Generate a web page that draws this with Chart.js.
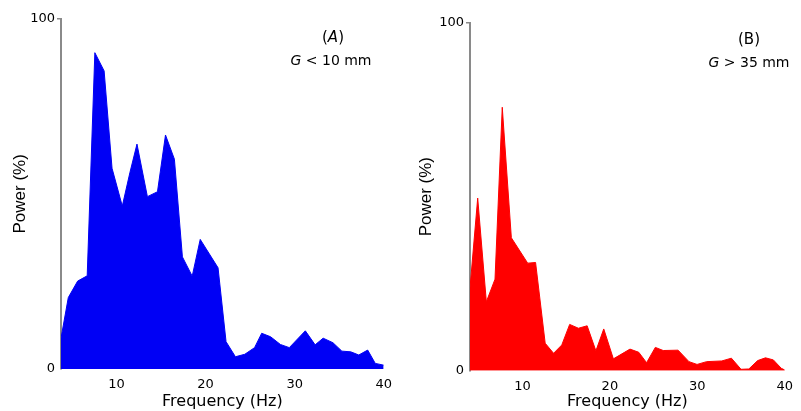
<!DOCTYPE html>
<html>
<head>
<meta charset="utf-8">
<script src="https://cdn.jsdelivr.net/npm/chart.js@4/dist/chart.umd.min.js"></script>
<style>
  html, body { margin: 0; padding: 0; background: #fff; }
  #wrap { position: relative; width: 801px; height: 411px; overflow: hidden; }
  canvas { position: absolute; top: 0; }
  #chart-a { left: 0; }
  #chart-b { left: 400px; }
</style>
</head>
<body>
<div id="wrap">
  <canvas id="chart-a" width="400" height="411"></canvas>
  <canvas id="chart-b" width="401" height="411"></canvas>
</div>
<script>
// panel A: G < 10 mm
const freqA = [3.77, 4.59, 5.64, 6.71, 7.57, 8.61, 9.5, 10.65, 11.5, 12.3, 13.47, 14.6, 15.5, 16.5,
    17.4, 18.5, 19.4, 21.4, 22.3, 23.35, 24.4, 25.5, 26.3, 27.3, 28.4, 29.4, 31.2, 32.3, 33.2,
    34.3, 35.3, 36.3, 37.2, 38.2, 39.05, 40];
const powerA = [8.8, 20.4, 25.1, 26.6, 90.3, 85.1, 57.3, 46.5, 56, 64.2, 49.2, 50.6, 66.8, 59.9,
    32, 26.5, 37, 28.9, 7.8, 3.5, 4.2, 6.1, 10.2, 9.2, 7.0, 6.1, 10.9, 6.9, 8.8,
    7.5, 5.1, 4.9, 4.0, 5.4, 1.6, 1.1];

// panel B: G > 35 mm
const freqB = [4.0, 4.88, 5.87, 6.86, 7.69, 8.73, 10.6, 11.5, 12.6, 13.56, 14.5, 15.4, 16.4, 17.4,
    18.4, 19.3, 20.4, 22.3, 23.3, 24.2, 25.2, 26.1, 27.8, 29.05, 29.97, 31.07, 32.8, 33.9,
    35.0, 35.9, 36.9, 37.8, 38.7, 39.6, 40];
const powerB = [23.8, 49.6, 19.8, 26.3, 75.7, 38.2, 30.9, 31.1, 7.9, 5.0, 7.4, 13.3, 12.2, 12.9,
    5.7, 12.0, 3.4, 6.2, 5.3, 2.3, 6.7, 5.8, 5.9, 2.6, 1.8, 2.6, 2.8, 3.6,
    0.4, 0.5, 2.9, 3.7, 3.1, 0.7, 0.2];

const xTicks = [10, 20, 30, 40];
const yTicks = [0, 100];

const FONT = '"DejaVu Sans", sans-serif';
const AXIS = '#8a8a8a';

// draws the "(A)" / "G < 10 mm" notes, G in italics
const notesPlugin = {
    id: 'notes',
    afterDraw(chart, args, opts) {
        const ctx = chart.ctx;
        ctx.save();
        ctx.fillStyle = '#000';
        ctx.textBaseline = 'middle';
        for (const line of opts.lines || []) {
            let total = 0;
            for (const p of line.parts) {
                ctx.font = (p.italic ? 'italic ' : '') + line.size + 'px ' + FONT;
                total += ctx.measureText(p.t).width;
            }
            let x = line.x - total / 2;
            for (const p of line.parts) {
                ctx.font = (p.italic ? 'italic ' : '') + line.size + 'px ' + FONT;
                ctx.textAlign = 'left';
                ctx.fillText(p.t, x, line.y);
                x += ctx.measureText(p.t).width;
            }
        }
        ctx.restore();
    }
};

function build(id, freq, power, color, cfg) {
    const points = freq.map((f, i) => ({ x: f, y: power[i] }));
    return new Chart(document.getElementById(id), {
        type: 'line',
        data: {
            datasets: [{
                data: points,
                borderColor: color,
                backgroundColor: color,
                borderWidth: 1,
                fill: 'origin',
                pointRadius: 0,
                tension: 0,
            }],
        },
        options: {
            responsive: false,
            animation: false,
            events: [],
            layout: { padding: { left: 0, top: cfg.top, right: cfg.right, bottom: 0 } },
            plugins: {
                legend: { display: false },
                tooltip: { enabled: false },
                notes: { lines: cfg.notes },
            },
            scales: {
                x: {
                    type: 'linear',
                    min: cfg.xmin,
                    max: 40,
                    afterBuildTicks: s => { s.ticks = xTicks.map(v => ({ value: v })); },
                    afterFit: s => { s.height = cfg.xh; },
                    grid: { display: false, drawTicks: false },
                    border: { display: false },
                    ticks: { color: '#000', padding: 8, maxRotation: 0, font: { family: FONT, size: 13 } },
                    title: {
                        display: true,
                        text: 'Frequency (Hz)',
                        color: '#000',
                        padding: { top: 0, bottom: 0 },
                        font: { family: FONT, size: 16 },
                    },
                },
                y: {
                    min: 0,
                    max: 100,
                    afterBuildTicks: s => { s.ticks = yTicks.map(v => ({ value: v })); },
                    afterFit: s => { s.width = cfg.yw; },
                    grid: {
                        drawOnChartArea: false,
                        tickLength: 4,
                        lineWidth: 1.5,
                        color: c => (c.tick && c.tick.value === 100 ? AXIS : 'rgba(0,0,0,0)'),
                    },
                    border: { display: true, color: AXIS, width: 2 },
                    ticks: { color: '#000', padding: 2, font: { family: FONT, size: 13 } },
                    title: {
                        display: true,
                        text: 'Power (%)',
                        color: '#000',
                        padding: { top: cfg.ytp, bottom: 0 },
                        font: { family: '"Liberation Sans", Arial, sans-serif', size: 17 },
                    },
                },
            },
        },
        plugins: [notesPlugin],
    });
}

build('chart-a', freqA, powerA, '#0000f5', {
    xmin: 3.77, top: 18.7, right: 15, xh: 42, yw: 61, ytp: 10,
    notes: [
        { x: 333, y: 38, size: 15, parts: [{ t: '(' }, { t: 'A', italic: true }, { t: ')' }] },
        { x: 331, y: 61, size: 14, parts: [{ t: 'G', italic: true }, { t: ' < 10 mm' }] },
    ],
});

build('chart-b', freqB, powerB, '#ff0000', {
    xmin: 4, top: 22.7, right: 4, xh: 40.3, yw: 70, ytp: 16,
    notes: [
        { x: 349, y: 40, size: 15, parts: [{ t: '(B)' }] },
        { x: 349, y: 63, size: 14, parts: [{ t: 'G', italic: true }, { t: ' > 35 mm' }] },
    ],
});
</script>
</body>
</html>
